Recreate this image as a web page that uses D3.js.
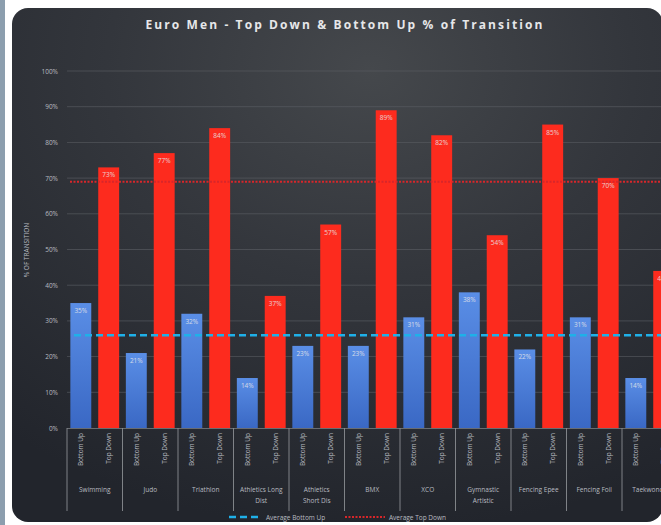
<!DOCTYPE html>
<html><head><meta charset="utf-8">
<script src="https://cdn.jsdelivr.net/npm/d3@7"></script>
<style>body{margin:0;background:#fff;overflow:hidden}svg{display:block}</style>
</head><body>
<svg id="c" width="661" height="525"></svg>
<script>
const categories = ["Swimming","Judo","Triathlon","Athletics Long Dist","Athletics Short Dis","BMX","XCO","Gymnastic Artistic","Fencing Epee","Fencing Foil","Taekwondo"];
const categoryLines = [["Swimming"],["Judo"],["Triathlon"],["Athletics Long","Dist"],["Athletics","Short Dis"],["BMX"],["XCO"],["Gymnastic","Artistic"],["Fencing Epee"],["Fencing Foil"],["Taekwondo"]];
const bottomUp = [35,21,32,14,23,23,31,38,22,31,14];
const topDown = [73,77,84,37,57,89,82,54,85,70,44];
const avgBottomUp = 26;
const avgTopDown = 69;
const yTicks = [0,10,20,30,40,50,60,70,80,90,100];
const seriesNames = ["Bottom Up","Top Down"];

const svg = d3.select("#c");
const defs = svg.append("defs");
const bg = defs.append("radialGradient").attr("id","bg").attr("cx","0.55").attr("cy","0.12").attr("r","0.9");
bg.append("stop").attr("offset","0").attr("stop-color","#45484c");
bg.append("stop").attr("offset","0.45").attr("stop-color","#33363c");
bg.append("stop").attr("offset","1").attr("stop-color","#22252c");
const gb = defs.append("linearGradient").attr("id","gb").attr("x1",0).attr("x2",0).attr("y1",0).attr("y2",1);
gb.append("stop").attr("offset","0").attr("stop-color","#5a8ee6");
gb.append("stop").attr("offset","1").attr("stop-color","#3a68c4");
defs.append("clipPath").attr("id","card").append("rect").attr("x",12).attr("y",8).attr("width",651).attr("height",514).attr("rx",16);

// left strip
svg.append("rect").attr("x",0).attr("y",0).attr("width",5).attr("height",525).attr("fill","#8c9eae");

const g = svg.append("g").attr("clip-path","url(#card)");
g.append("rect").attr("x",12).attr("y",8).attr("width",651).attr("height",514).attr("fill","url(#bg)");

const y = d3.scaleLinear().domain([0,100]).range([428,71]);
const x = d3.scaleBand().domain(categories).range([67, 67 + 55.5*categories.length]).padding(0);
const xs = d3.scaleBand().domain(seriesNames).range([0, x.bandwidth()]).padding(0.25).paddingOuter(0.12);

// gridlines
g.append("g").selectAll("line").data(yTicks.slice(1)).join("line")
  .attr("x1",67).attr("x2",700).attr("y1",d=>y(d)).attr("y2",d=>y(d))
  .attr("stroke","#5a5d63").attr("stroke-width",0.8).attr("opacity",0.8);

// y axis labels
const yAxis = d3.axisLeft(y).tickValues(yTicks).tickFormat(d=>d+"%").tickSize(0).tickPadding(0);
const ya = g.append("g").attr("transform","translate(58,0)").call(yAxis);
ya.select(".domain").remove();
ya.selectAll("text").attr("fill","#b8bbc0").attr("font-size",6.5).attr("font-family","Open Sans, sans-serif");

g.append("text").attr("transform","translate(29,250) rotate(-90)").attr("text-anchor","middle")
  .attr("fill","#b8bbc0").attr("font-size",6.5).attr("font-family","Open Sans, sans-serif").text("% OF TRANSITION");

// bars
const rows = categories.map((c,i)=>({c, vals:[{s:"Bottom Up",v:bottomUp[i]},{s:"Top Down",v:topDown[i]}]}));
const grp = g.append("g").selectAll("g").data(rows).join("g").attr("transform",d=>`translate(${x(d.c)},0)`);
grp.selectAll("rect").data(d=>d.vals).join("rect")
  .attr("x",d=>xs(d.s)).attr("width",xs.bandwidth())
  .attr("y",d=>y(d.v)).attr("height",d=>y(0)-y(d.v))
  .attr("fill",d=>d.s==="Bottom Up"?"url(#gb)":"#fd2b1e");
grp.selectAll("text.lab").data(d=>d.vals).join("text").attr("class","lab")
  .attr("x",d=>xs(d.s)+xs.bandwidth()/2).attr("y",d=>y(d.v)+10)
  .attr("text-anchor","middle").attr("fill","#e8e8ea").attr("font-size",6.5).attr("opacity",0.85)
  .attr("font-family","Open Sans, sans-serif").text(d=>d.v+"%");

// axis baseline
g.append("line").attr("x1",67).attr("x2",700).attr("y1",428.5).attr("y2",428.5).attr("stroke","#7a7d83").attr("stroke-width",0.8);

// group separators
g.append("g").selectAll("line").data(categories).join("line")
  .attr("x1",d=>x(d)).attr("x2",d=>x(d)).attr("y1",428).attr("y2",511)
  .attr("stroke","#8a8d92").attr("stroke-width",0.9);

// series labels
grp.selectAll("text.sub").data(d=>d.vals).join("text").attr("class","sub")
  .attr("transform",d=>`translate(${xs(d.s)+xs.bandwidth()/2+2.5},433) rotate(-90)`)
  .attr("text-anchor","end").attr("fill","#b8bbc0").attr("font-size",6.5)
  .attr("font-family","Open Sans, sans-serif").text(d=>d.s);

// category labels
grp.append("text").attr("text-anchor","middle").attr("fill","#b8bbc0").attr("font-size",6.5)
  .attr("font-family","Open Sans, sans-serif")
  .selectAll("tspan").data((d,i)=>categoryLines[i]).join("tspan")
  .attr("x",x.bandwidth()/2).attr("y",(d,i)=>492+i*11).text(d=>d);

// averages
g.append("line").attr("x1",70).attr("x2",700).attr("y1",y(avgTopDown)).attr("y2",y(avgTopDown))
  .attr("stroke","#d8262a").attr("stroke-width",2).attr("stroke-dasharray","2,1.5");
g.append("line").attr("x1",74).attr("x2",700).attr("y1",y(avgBottomUp)).attr("y2",y(avgBottomUp))
  .attr("stroke","#1fb0e8").attr("stroke-width",2.4).attr("stroke-dasharray","7,4");

// legend
const lg = g.append("g");
lg.append("line").attr("x1",229).attr("x2",262).attr("y1",517).attr("y2",517).attr("stroke","#1fb0e8").attr("stroke-width",2.4).attr("stroke-dasharray","7,4");
lg.append("text").attr("x",266).attr("y",519.5).attr("fill","#b8bbc0").attr("font-size",6.5).attr("font-family","Open Sans, sans-serif").text("Average Bottom Up");
lg.append("line").attr("x1",345).attr("x2",385).attr("y1",517).attr("y2",517).attr("stroke","#d8262a").attr("stroke-width",2).attr("stroke-dasharray","2,1.5");
lg.append("text").attr("x",389).attr("y",519.5).attr("fill","#b8bbc0").attr("font-size",6.5).attr("font-family","Open Sans, sans-serif").text("Average Top Down");

// title
g.append("text").attr("x",345).attr("y",29).attr("text-anchor","middle").attr("fill","#e6e7e9")
  .attr("font-size",12).attr("font-weight","bold").attr("letter-spacing",2.1)
  .attr("font-family","Open Sans, sans-serif").text("Euro Men - Top Down & Bottom Up % of Transition");
</script>
</body></html>
